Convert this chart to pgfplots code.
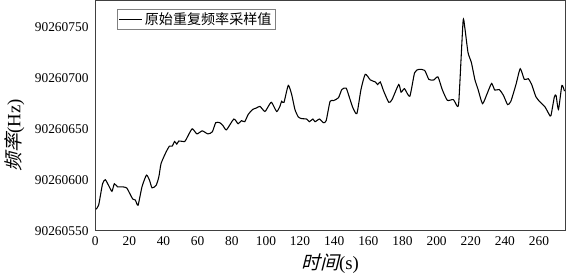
\documentclass[border=0pt]{standalone}
\usepackage{pgfplots}
\pgfplotsset{compat=1.18}
\usepackage{fontspec}
\setmainfont{Liberation Serif}
\newfontfamily\cjk{Noto Sans CJK SC}
\newfontfamily\cjkit[FakeSlant=0.25]{Noto Sans CJK SC}
\begin{document}
\begin{tikzpicture}
\begin{axis}[
  scale only axis,
  width=351pt, height=171.75pt,
  xmin=0, xmax=275.5,
  ymin=550, ymax=776,
  xtick={0,20,...,260},
  ytick={550,600,650,700,750},
  yticklabels={90260550,90260600,90260650,90260700,90260750},
  major tick length=0pt,
  tick label style={font=\fontsize{10}{12}\selectfont},
  /pgf/number format/assume math mode=true,
  xticklabel style={yshift=-1pt},
  yticklabel style={xshift=-1.5pt},
  axis line style={draw=black!75, line width=0.8pt},
  xlabel={{\cjkit 时间}(s)},
  ylabel={{\cjkit 频率}(Hz)},
  label style={font=\fontsize{14}{16}\selectfont},
  xlabel style={yshift=1pt},
  ylabel style={at={(ticklabel cs:0.415)}, yshift=1pt},
  legend cell align=left,
  legend style={at={(0.047,0.965)}, anchor=north west, draw=black!50,
    line width=0.4pt, font=\cjk\fontsize{10.5}{12}\selectfont,
    inner sep=0.5pt, row sep=-1pt},
  legend image code/.code={\draw[#1, line width=0.8pt] (0cm,0cm) -- (0.6cm,0cm);},
]
% frequency values minus 90260000 Hz
\addplot[black, line width=0.8pt, smooth, tension=0.35] coordinates {
(0.4,571) (2,575) (4.3,596) (5.9,600) (7.8,594.5) (9.8,588.6) (11.2,596)
(13.1,593) (16,593) (18.4,592) (20.4,586) (22,581) (23.5,580) (25.1,575)
(27.4,593) (30.0,604.5) (31.8,599.5) (33.3,592) (35.7,594.5) (37.3,603)
(38.6,616) (41.6,627.5) (43.5,633) (45.1,633) (46.5,637.5) (47.8,635)
(49,638) (52.4,637.5) (53.7,641) (56.8,650) (59.6,645) (62.7,648) (66,645)
(68.6,647) (70.6,656) (73,656) (74.9,653) (76.9,649) (81.2,659.6) (83.7,655)
(85.7,658) (87.6,657) (89.6,664) (92.2,669) (94.5,670.5) (96.5,672)
(99.4,667) (101.4,672) (103.3,676) (106.3,667) (108.2,672) (109.2,677)
(110.6,676) (113.1,692.6) (115.1,683.7) (117,669) (119,661.6) (121,660)
(123.9,659.6) (125.5,657) (127.5,659.6) (128.8,657) (131.4,659.6)
(133.7,656) (135.3,658) (137.6,677) (139.6,677.7) (142.5,680.5)
(144.5,688.6) (147,690) (149,680.4) (151,670.5) (153.3,665) (155.7,688.6)
(158.2,703.5) (161.2,698) (164.1,696) (165.5,693.5) (167,696) (169,687)
(172,676) (173.9,678.7) (177.8,693.5) (179.2,686) (181.2,689.4) (184.3,682)
(187.1,705) (189.6,708.4) (193,707.4) (195.5,698.5) (198.4,698) (200.8,701)
(203.3,688.6) (206.3,678) (209.8,678.7) (212.2,672) (213.1,678.7)
(215.5,755.2) (216.5,749.7) (218.4,725) (220.4,715) (222.4,698.5)
(224.3,688.6) (226.9,674.7) (229.4,683.7) (232.2,694.5) (234.1,688)
(236.7,688.6) (239.2,682.7) (241.6,673.8) (243.5,677) (246.5,693.5)
(249,709) (251.4,698.5) (253.7,699.2) (255.7,693.5) (258.2,681.4)
(260.8,676) (263.5,671.5) (266,664) (267,663) (269,681.4) (270,682.7)
(271.4,669) (273.4,692.6) (274.9,687)
};
\addlegendentry{原始重复频率采样值}
\end{axis}
\end{tikzpicture}
\end{document}
